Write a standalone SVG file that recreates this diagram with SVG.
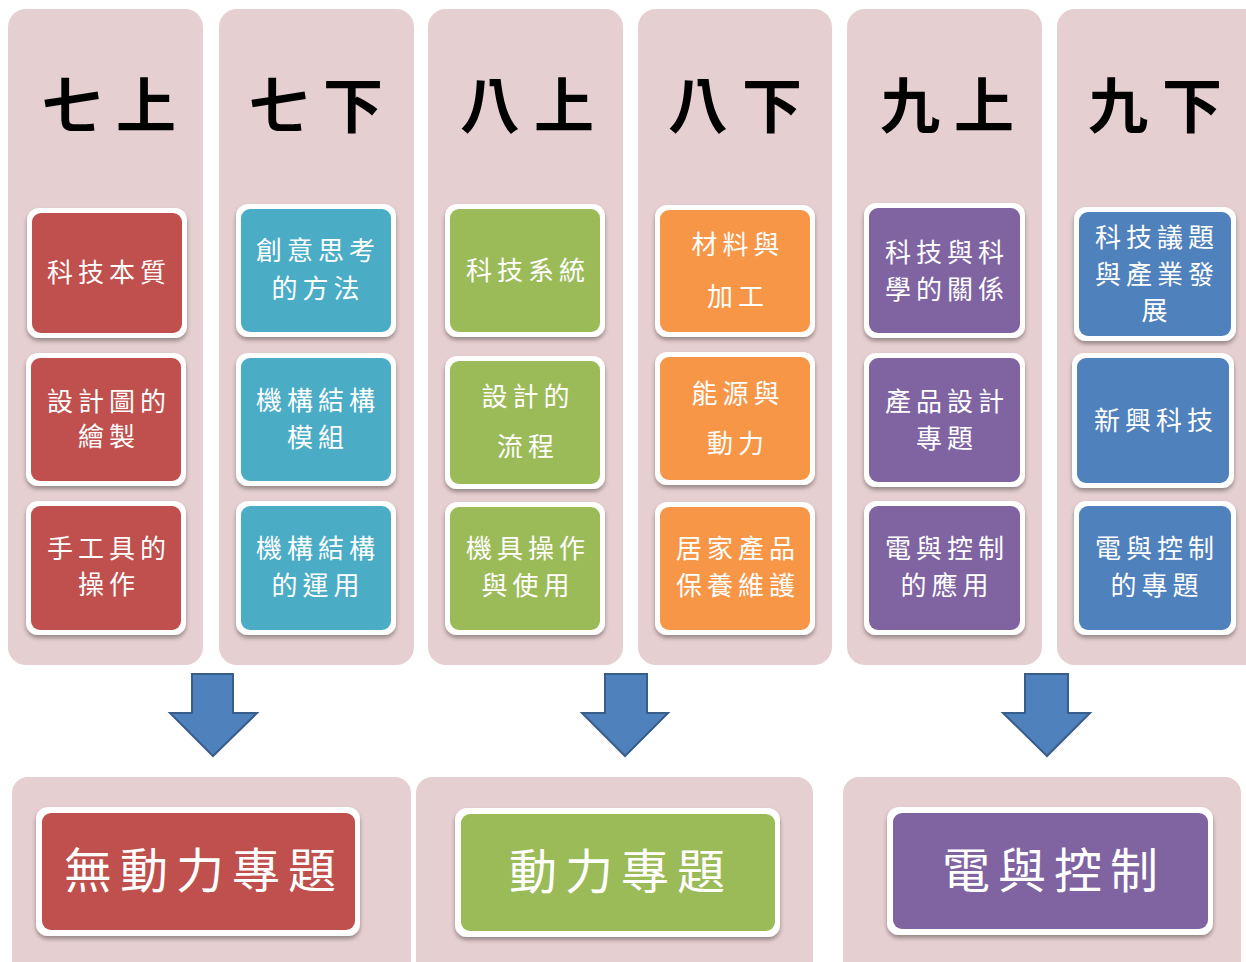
<svg xmlns="http://www.w3.org/2000/svg" width="1246" height="962" viewBox="0 0 1246 962">
<defs>
<filter id="sh" x="-10%" y="-10%" width="120%" height="130%"><feDropShadow dx="0" dy="3" stdDeviation="2" flood-color="#000" flood-opacity="0.35"/></filter>
</defs>
<style>
.bg{fill:#E6CFD0}
.ob{fill:#fff;filter:url(#sh)}
.red{fill:#C0504D}.teal{fill:#4BACC6}.green{fill:#9BBB59}.orange{fill:#F79646}.purple{fill:#8064A2}.blue{fill:#4F81BD}
.hd{font-family:"Noto Sans CJK TC","Noto Sans CJK SC",sans-serif;font-size:60px;font-weight:bold;fill:#000;text-anchor:middle;letter-spacing:14px}
.t{font-family:"Noto Sans CJK TC","Noto Sans CJK SC",sans-serif;font-size:26px;fill:#fff;text-anchor:middle;letter-spacing:5px}
.bt{font-family:"Noto Sans CJK TC","Noto Sans CJK SC",sans-serif;font-size:48px;fill:#fff;text-anchor:middle;letter-spacing:8px}
.arr{fill:#4F81BD;stroke:#385D8A;stroke-width:2;stroke-linejoin:miter}
</style>
<g id="columns">
<rect class="bg" x="8" y="9" width="195" height="656" rx="18"/>
<rect class="bg" x="219" y="9" width="195" height="656" rx="18"/>
<rect class="bg" x="428" y="9" width="195" height="656" rx="18"/>
<rect class="bg" x="638" y="9" width="194" height="656" rx="18"/>
<rect class="bg" x="847" y="9" width="195" height="656" rx="18"/>
<rect class="bg" x="1057" y="9" width="205" height="656" rx="18"/>
</g>
<g id="headers">
<text class="hd" x="116" y="128">七上</text>
<text class="hd" x="323" y="128">七下</text>
<text class="hd" x="534" y="128">八上</text>
<text class="hd" x="742" y="128">八下</text>
<text class="hd" x="954" y="128">九上</text>
<text class="hd" x="1162" y="128">九下</text>
</g>
<g id="c1b1"><rect class="ob" x="27" y="208" width="160" height="130" rx="12"/><rect class="red" x="32" y="213" width="150" height="120" rx="9"/><text class="t" x="109" y="282">科技本質</text></g>
<g id="c1b2"><rect class="ob" x="26" y="353" width="160" height="133" rx="12"/><rect class="red" x="31" y="358" width="150" height="123" rx="9"/><text class="t" x="109" y="411">設計圖的</text><text class="t" x="109" y="446">繪製</text></g>
<g id="c1b3"><rect class="ob" x="26" y="501" width="160" height="134" rx="12"/><rect class="red" x="31" y="506" width="150" height="124" rx="9"/><text class="t" x="109" y="558">手工具的</text><text class="t" x="109" y="594">操作</text></g>

<g id="c2b1"><rect class="ob" x="236" y="204" width="160" height="133" rx="12"/><rect class="teal" x="241" y="209" width="150" height="123" rx="9"/><text class="t" x="318" y="260">創意思考</text><text class="t" x="318" y="298">的方法</text></g>
<g id="c2b2"><rect class="ob" x="236" y="353" width="160" height="133" rx="12"/><rect class="teal" x="241" y="358" width="150" height="123" rx="9"/><text class="t" x="318" y="410">機構結構</text><text class="t" x="318" y="447">模組</text></g>
<g id="c2b3"><rect class="ob" x="236" y="501" width="160" height="134" rx="12"/><rect class="teal" x="241" y="506" width="150" height="124" rx="9"/><text class="t" x="318" y="558">機構結構</text><text class="t" x="318" y="595">的運用</text></g>

<g id="c3b1"><rect class="ob" x="445" y="204" width="160" height="133" rx="12"/><rect class="green" x="450" y="209" width="150" height="123" rx="9"/><text class="t" x="528" y="280">科技系統</text></g>
<g id="c3b2"><rect class="ob" x="445" y="356" width="160" height="133" rx="12"/><rect class="green" x="450" y="361" width="150" height="123" rx="9"/><text class="t" x="528" y="406">設計的</text><text class="t" x="528" y="456">流程</text></g>
<g id="c3b3"><rect class="ob" x="445" y="502" width="160" height="133" rx="12"/><rect class="green" x="450" y="507" width="150" height="123" rx="9"/><text class="t" x="528" y="558">機具操作</text><text class="t" x="528" y="595">與使用</text></g>

<g id="c4b1"><rect class="ob" x="655" y="205" width="160" height="132" rx="12"/><rect class="orange" x="660" y="210" width="150" height="122" rx="9"/><text class="t" x="738" y="254">材料與</text><text class="t" x="738" y="306">加工</text></g>
<g id="c4b2"><rect class="ob" x="655" y="352" width="160" height="133" rx="12"/><rect class="orange" x="660" y="357" width="150" height="123" rx="9"/><text class="t" x="738" y="403">能源與</text><text class="t" x="738" y="453">動力</text></g>
<g id="c4b3"><rect class="ob" x="655" y="502" width="160" height="133" rx="12"/><rect class="orange" x="660" y="507" width="150" height="123" rx="9"/><text class="t" x="738" y="558">居家產品</text><text class="t" x="738" y="595">保養維護</text></g>

<g id="c5b1"><rect class="ob" x="864" y="203" width="161" height="135" rx="12"/><rect class="purple" x="869" y="208" width="151" height="125" rx="9"/><text class="t" x="947" y="262">科技與科</text><text class="t" x="947" y="299">學的關係</text></g>
<g id="c5b2"><rect class="ob" x="864" y="353" width="161" height="134" rx="12"/><rect class="purple" x="869" y="358" width="151" height="124" rx="9"/><text class="t" x="947" y="411">產品設計</text><text class="t" x="947" y="448">專題</text></g>
<g id="c5b3"><rect class="ob" x="864" y="501" width="161" height="134" rx="12"/><rect class="purple" x="869" y="506" width="151" height="124" rx="9"/><text class="t" x="947" y="558">電與控制</text><text class="t" x="947" y="595">的應用</text></g>

<g id="c6b1"><rect class="ob" x="1074" y="207" width="162" height="134" rx="12"/><rect class="blue" x="1079" y="212" width="152" height="124" rx="9"/><text class="t" x="1157" y="247">科技議題</text><text class="t" x="1157" y="284">與產業發</text><text class="t" x="1157" y="320">展</text></g>
<g id="c6b2"><rect class="ob" x="1072" y="353" width="162" height="135" rx="12"/><rect class="blue" x="1077" y="358" width="152" height="125" rx="9"/><text class="t" x="1156" y="430">新興科技</text></g>
<g id="c6b3"><rect class="ob" x="1074" y="501" width="162" height="134" rx="12"/><rect class="blue" x="1079" y="506" width="152" height="124" rx="9"/><text class="t" x="1157" y="558">電與控制</text><text class="t" x="1157" y="595">的專題</text></g>

<g id="connectors">
<polygon class="arr" points="192,674 233,674 233,713 257,713 213,756 170,713 192,713"/>
<polygon class="arr" points="605,674 647,674 647,713 668,713 625,756 582,713 605,713"/>
<polygon class="arr" points="1025,674 1068,674 1068,713 1090,713 1047,756 1003,713 1025,713"/>
</g>
<g id="panels">
<rect class="bg" x="12" y="777" width="399" height="200" rx="16"/>
<rect class="bg" x="416" y="777" width="397" height="200" rx="16"/>
<rect class="bg" x="843" y="777" width="398" height="200" rx="16"/>
</g>
<g id="p1"><rect class="ob" x="36" y="807" width="324" height="129" rx="12"/><rect class="red" x="42" y="813" width="313" height="117" rx="9"/><text class="bt" x="204" y="888">無動力專題</text></g>
<g id="p2"><rect class="ob" x="455" y="808" width="325" height="129" rx="12"/><rect class="green" x="461" y="814" width="314" height="117" rx="9"/><text class="bt" x="621" y="889">動力專題</text></g>
<g id="p3"><rect class="ob" x="887" y="807" width="326" height="128" rx="12"/><rect class="purple" x="893" y="813" width="315" height="116" rx="9"/><text class="bt" x="1054" y="888">電與控制</text></g>
</svg>
